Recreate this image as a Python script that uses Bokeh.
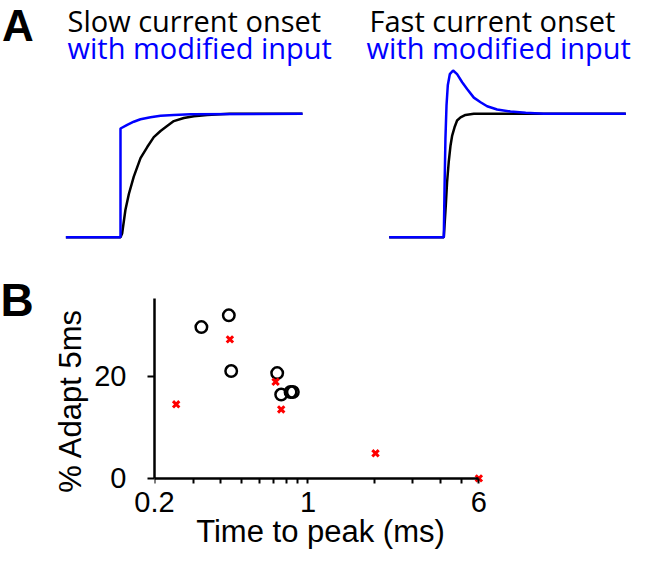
import math
from bokeh.plotting import figure
from bokeh.models import Range1d, Label, FixedTicker, CustomJSTickFormatter, LogAxis
from bokeh.layouts import column, row
from bokeh.embed import file_html
from bokeh.resources import INLINE

# ---------------- Panel A data (normalised current vs time, step at t = 0) ----------------
slow_t_black = [-0.3, 0.0, 0.009, 0.027, 0.046, 0.073, 0.11, 0.147, 0.183, 0.22, 0.256, 0.293, 0.348, 0.403, 0.476, 0.6, 1.0]
slow_black = [0, 0, 0.03, 0.22, 0.35, 0.49, 0.64, 0.73, 0.81, 0.86, 0.90, 0.94, 0.965, 0.98, 0.99, 1.0, 1.0]
slow_t_blue = [-0.3, 0.0, 0.0, 0.037, 0.073, 0.11, 0.165, 0.22, 0.293, 0.385, 1.0]
slow_blue = [0, 0, 0.88, 0.91, 0.935, 0.955, 0.972, 0.983, 0.99, 0.995, 1.0]

fast_t_black = [-0.3, 0.0, 0.011, 0.018, 0.027, 0.037, 0.046, 0.059, 0.073, 0.092, 0.119, 0.165, 1.0]
fast_black = [0, 0, 0.257, 0.445, 0.607, 0.743, 0.823, 0.89, 0.945, 0.97, 0.99, 1.0, 1.0]
fast_t_blue = [-0.3, 0.0, 0.004, 0.009, 0.015, 0.022, 0.033, 0.051, 0.073, 0.101, 0.128, 0.165, 0.202, 0.238, 0.293, 0.366, 0.45, 0.55, 1.0]
fast_blue = [0, 0, 0.39, 0.80, 1.07, 1.23, 1.32, 1.35, 1.32, 1.255, 1.20, 1.13, 1.093, 1.06, 1.034, 1.018, 1.008, 1.0, 1.0]

# ---------------- Panel B data ----------------
circle_x = [0.327, 0.436, 0.447, 0.724, 0.755, 0.833, 0.853]
circle_y = [29.6, 31.9, 21.0, 20.6, 16.4, 16.9, 16.9]
cross_x = [0.251, 0.441, 0.712, 0.755, 2.03, 6.0]
cross_y = [14.5, 27.2, 18.9, 13.5, 4.9, 0.0]
x_major = [0.2, 1, 6]
x_minor = [0.3, 0.4, 0.5, 0.6, 0.7, 0.8, 0.9, 2, 3, 4, 5]
y_major = [0, 20]

BLUE = "#0000ff"
TXT_FONT = "Open Sans"
AX_FONT = "Liberation Sans"

# ---------------- Panel A ----------------
pA = figure(width=634, height=262, output_backend="svg", toolbar_location=None,
            x_range=Range1d(-0.6593, 2.8242), y_range=Range1d(-0.2049, 1.9166),
            x_axis_location=None, y_axis_location=None, min_border=0)
pA.extra_x_ranges = {"fast": Range1d(-2.4357, 1.0478)}
pA.grid.visible = False
pA.outline_line_color = None

pA.line(slow_t_black, slow_black, line_color="black", line_width=2.5)
pA.line(slow_t_blue, slow_blue, line_color=BLUE, line_width=2.5)
pA.line(fast_t_black, fast_black, line_color="black", line_width=2.5, x_range_name="fast")
pA.line(fast_t_blue, fast_blue, line_color=BLUE, line_width=2.5, x_range_name="fast")

pA.add_layout(Label(x=1.5, y=237, x_units="screen", y_units="screen", text="A",
                    text_font=AX_FONT, text_font_style="bold", text_font_size="44px",
                    text_color="black", text_baseline="alphabetic"))
for (x, y, t, c) in [(67, 242, "Slow current onset", "black"),
                     (67, 215.4, "with modified input", BLUE),
                     (369, 242, "Fast current onset", "black"),
                     (366, 215.4, "with modified input", BLUE)]:
    pA.add_layout(Label(x=x, y=y, x_units="screen", y_units="screen", text=t,
                        text_font=TXT_FONT, text_font_size="29px", text_color=c,
                        text_baseline="alphabetic"))

# ---------------- Panel B: left strip with panel letter and y title ----------------
pBL = figure(width=90, height=295, output_backend="svg", toolbar_location=None,
             x_axis_location=None, y_axis_location=None, min_border=0,
             x_range=Range1d(0, 1), y_range=Range1d(0, 1))
pBL.grid.visible = False
pBL.outline_line_color = None
pBL.add_layout(Label(x=0, y=257.9, x_units="screen", y_units="screen", text="B",
                     text_font=AX_FONT, text_font_style="bold", text_font_size="46px",
                     text_color="black", text_baseline="alphabetic"))
pBL.add_layout(Label(x=70, y=157, x_units="screen", y_units="screen", text="% Adapt 5ms",
                     angle=math.pi / 2, text_align="center",
                     text_font=AX_FONT, text_font_size="31px",
                     text_color="black", text_baseline="alphabetic"))

# ---------------- Panel B: scatter ----------------
pB = figure(width=544, height=295, x_axis_type="log",
            x_range=Range1d(0.2, 6.5), y_range=Range1d(-1.2, 35.2),
            min_border_left=64, min_border_right=148, min_border_top=36, min_border_bottom=73,
            output_backend="svg", toolbar_location=None)
pB.grid.visible = False
pB.outline_line_color = None

pB.scatter(circle_x, circle_y, marker="circle", size=11.5, fill_color=None,
           line_color="black", line_width=2.5)
pB.scatter(cross_x, cross_y, marker="x", size=9, line_color="red", line_width=3)

# x axis rule and ticks, placed at y = 0
xa = pB.xaxis[0]
xa.ticker = FixedTicker(ticks=x_major, minor_ticks=x_minor)
xa.formatter = CustomJSTickFormatter(code="return ''")
xa.fixed_location = 0
xa.bounds = (0.2, 6)
xa.major_tick_out = 5
xa.minor_tick_out = 5

# x tick labels and title
xb = LogAxis(ticker=FixedTicker(ticks=x_major, minor_ticks=[]),
             formatter=CustomJSTickFormatter(code="return tick.toString()"),
             bounds=(0.2, 6), axis_line_color=None,
             major_tick_line_color=None, minor_tick_line_color=None,
             major_tick_out=0, major_tick_in=0, minor_tick_out=0, minor_tick_in=0,
             major_label_standoff=7, axis_label="Time to peak (ms)", axis_label_standoff=-1,
             major_label_text_font=AX_FONT, major_label_text_font_size="29px",
             major_label_text_color="black",
             axis_label_text_font=AX_FONT, axis_label_text_font_size="31px",
             axis_label_text_font_style="normal", axis_label_text_color="black")
pB.add_layout(xb, "below")

ya = pB.yaxis[0]
ya.ticker = FixedTicker(ticks=y_major)
ya.bounds = (0, 35.2)
ya.major_label_standoff = 21
ya.major_tick_out = 7
ya.minor_tick_out = 0

for ax in (xa, ya):
    ax.axis_line_width = 2.5
    ax.axis_line_color = "black"
    ax.major_tick_line_width = 2
    ax.minor_tick_line_width = 2
    ax.major_tick_line_color = "black"
    ax.minor_tick_line_color = "black"
    ax.major_tick_in = 0
    ax.minor_tick_in = 0
    ax.major_label_text_font = AX_FONT
    ax.major_label_text_font_size = "29px"
    ax.major_label_text_color = "black"

for p in (pA, pBL, pB):
    if "frame_align" in p.properties():
        p.frame_align = False

layout = column(pA, row(pBL, pB, spacing=0), spacing=0)
open("out.html", "w").write(file_html(layout, INLINE))
